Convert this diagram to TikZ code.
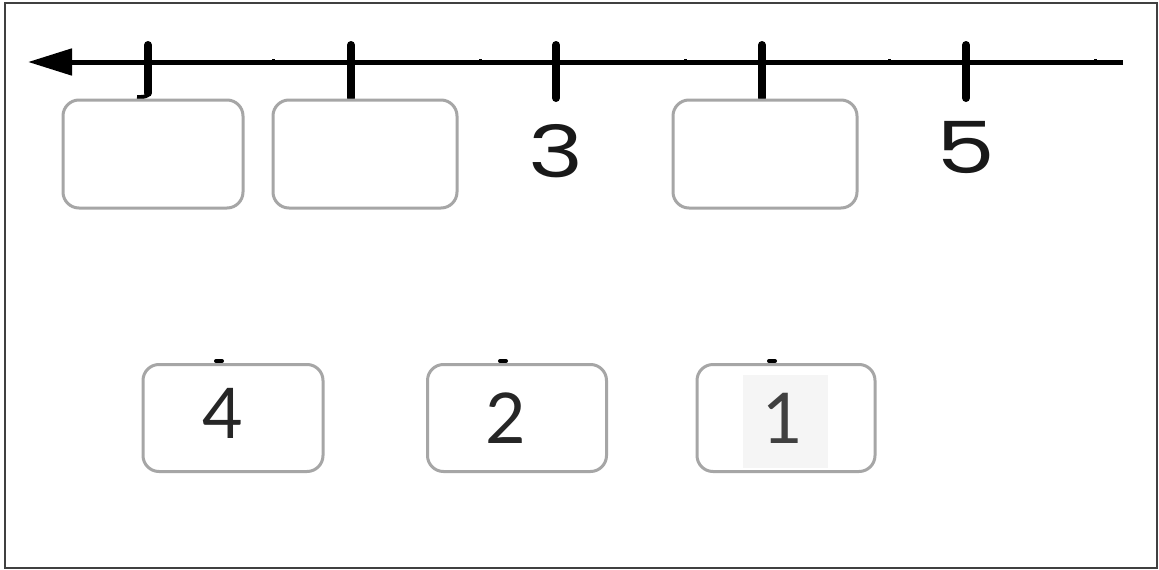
\documentclass[tikz,border=0pt]{standalone}
\usepackage{fontspec}
\setmainfont{Poppins}
\newfontfamily\handfont{Lato}
\usetikzlibrary{arrows.meta,calc}
\tikzset{
  axisline/.style={line width=5pt, black},
  tickmark/.style={line width=8pt, black, line cap=round},
  minortick/.style={line width=3pt, black},
  answerbox/.style={draw=gray!70, line width=3pt, rounded corners=16pt, fill=white, inner sep=0pt},
  toplabel/.style={font=\fontsize{72}{72}\selectfont, text=black!90, inner sep=0pt, xscale=1.3},
  cardlabel/.style={font=\handfont\fontsize{70}{70}\selectfont, text=black!85, inner sep=0pt},
  dotmark/.style={line width=4pt, black, line cap=round}
}
\begin{document}
\begin{tikzpicture}[x=1pt,y=-1pt]
\useasboundingbox (0,0) rectangle (1159,570);
\fill[white] (0,0) rectangle (1159,570);
\draw[line width=2pt, black!75] (5,3) rectangle (1157,568);
% axis
\coordinate (axL) at (28,62);
\coordinate (axR) at (1123,62);
\draw[axisline, -{Triangle[length=44pt,width=26pt]}] (axR) -- (axL);
% minor ticks
\foreach \x/\n in {273/a,480/b,685/c,889/d,1095/e}{
  \coordinate (m\n t) at (\x,59);
  \coordinate (m\n b) at (\x,65);
  \draw[minortick] (m\n t) -- (m\n b);
}
% major ticks
\coordinate (t1t) at (148,45); \coordinate (t1b) at (148,93);
\coordinate (t1h) at (137,97);
\draw[tickmark] (t1t) -- (t1b);
\draw[line width=4pt, black] (t1b) to[out=-90,in=0] (t1h);
\foreach \x/\n in {351/2,556/3,762/4,966/5}{
  \coordinate (t\n t) at (\x,45);
  \coordinate (t\n b) at (\x,98);
  \draw[tickmark] (t\n t) -- (t\n b);
}
% top boxes
\node[answerbox, minimum width=180pt, minimum height=108pt] (b1) at (153,154) {};
\node[answerbox, minimum width=184pt, minimum height=108pt] (b2) at (365,154) {};
\node[answerbox, minimum width=184pt, minimum height=108pt] (b4) at (765,154) {};
\node[toplabel] (l3) at (556,151) {3};
\node[toplabel] (l5) at (966,148) {5};
% bottom cards
\foreach \x/\n in {219/a,503/b,772/c}{
  \coordinate (d\n) at (\x,361);
  \draw[dotmark] ($(d\n)+(-3,0)$) -- ($(d\n)+(3,0)$);
}
\node[answerbox, minimum width=180pt, minimum height=107pt] (c4) at (233,418) {};
\node[answerbox, minimum width=179pt, minimum height=107pt] (c2) at (517,418) {};
\node[answerbox, minimum width=178pt, minimum height=107pt] (c1) at (786,418) {};
\fill[black!4] (743,375) rectangle (828,468);
\node[cardlabel] (n4) at (223,413) {4};
\node[cardlabel] (n2) at (506,418) {2};
\node[cardlabel, text=black!75] (n1) at (783,418) {1};
\end{tikzpicture}
\end{document}
